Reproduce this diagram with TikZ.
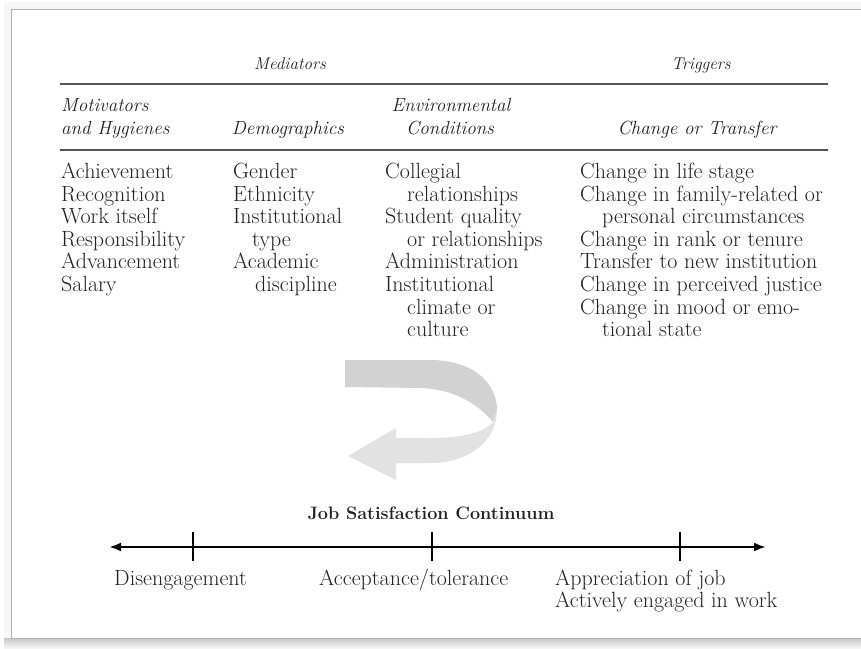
\documentclass[tikz,border=0pt]{standalone}
\usetikzlibrary{arrows.meta}
\definecolor{ink}{HTML}{222222}
\definecolor{rulegray}{HTML}{555555}
\definecolor{bandtop}{HTML}{D2D2D2}
\definecolor{bandlow}{HTML}{E2E2E2}
\begin{document}
\begin{tikzpicture}[x=1pt,y=-1pt,
  body/.style={font=\fontsize{22}{22.6}\selectfont, text=ink, inner sep=0pt,
    anchor=west, text height=15pt, text depth=4pt},
  colhead/.style={body, font=\fontsize{19}{22}\selectfont\itshape},
  grouphead/.style={body, anchor=center, font=\fontsize{17}{20}\selectfont\itshape},
  tablerule/.style={draw=rulegray, line width=2.2pt},
  axisline/.style={draw=black, line width=2.6pt},
  tickmark/.style={draw=black, line width=2.6pt}]
\useasboundingbox (0,0) rectangle (861,648);
\clip (0,0) rectangle (861,648);
\fill[white] (0,0) rectangle (861,648);

% page frame with a soft drop shadow
\foreach \k in {1,...,7}
  \draw[black, opacity=0.03, line width=1pt] (11-\k,9-\k) rectangle (900,638+\k);
\shade[top color=black!22, bottom color=black!4] (4,638) rectangle (861,648);
\draw[black!30, line width=0.8pt] (11,9) rectangle (900,638);

% group headings and rules
\node[grouphead] (mediators) at (290,64) {Mediators};
\node[grouphead] (triggers) at (701,64) {Triggers};
\coordinate (ruleAL) at (60,84);  \coordinate (ruleAR) at (828,84);
\coordinate (ruleBL) at (60,150); \coordinate (ruleBR) at (828,150);
\path[tablerule] (ruleAL) -- (ruleAR);
\path[tablerule] (ruleBL) -- (ruleBR);

% column headings
\node[colhead] (h1a) at (61,106) {Motivators};
\node[colhead] (h1b) at (61,129) {and Hygienes};
\node[colhead, anchor=center] (h2) at (288,129) {Demographics};
\node[colhead, anchor=center] (h3a) at (451,106) {Environmental};
\node[colhead, anchor=center] (h3b) at (450,129) {Conditions};
\node[colhead, anchor=center] (h4) at (697,129) {Change or Transfer};

% column entries (indent in pt / text), one node per printed line
\foreach[count=\i] \d/\t in {0/Achievement, 0/Recognition, 0/Work itself,
    0/Responsibility, 0/Advancement, 0/Salary}
  \node[body] (colA-\i) at (61+\d, 173+22.6*\i-22.6) {\t};
\foreach[count=\i] \d/\t in {0/Gender, 0/Ethnicity, 0/Institutional,
    19/type, 0/Academic, 22/discipline}
  \node[body] (colB-\i) at (233+\d, 173+22.6*\i-22.6) {\t};
\foreach[count=\i] \d/\t in {0/Collegial, 22/relationships, 0/Student quality,
    22/or relationships, 0/Administration, 0/Institutional, 22/climate or,
    22/culture}
  \node[body] (colC-\i) at (385+\d, 173+22.6*\i-22.6) {\t};
\foreach[count=\i] \d/\t in {0/Change in life stage, 0/Change in family-related or,
    22/personal circumstances, 0/Change in rank or tenure,
    0/Transfer to new institution, 0/Change in perceived justice,
    0/Change in mood or emo-, 22/tional state}
  \node[body] (colD-\i) at (580+\d, 173+22.6*\i-22.6) {\t};

% curved ribbon arrow turning back to the left
\fill[bandtop] (345,360) -- (430,360)
  .. controls (472,360) and (497,382) .. (497,410)
  -- (493,422)
  .. controls (476,402) and (452,389) .. (420,388)
  -- (345,387) -- cycle;
\fill[bandlow] (497,410)
  .. controls (497,440) and (470,463) .. (430,463)
  -- (396,463) -- (396,480) -- (348,456) -- (396,428) -- (396,438)
  -- (430,438)
  .. controls (460,438) and (484,433) .. (493,422) -- cycle;

% job satisfaction continuum
\node[body, anchor=center, font=\fontsize{18}{20}\selectfont\bfseries] (cont) at (431,514)
  {Job Satisfaction Continuum};
\coordinate (axL) at (109,547);
\coordinate (axR) at (766,547);
\path[axisline, {Latex[length=12pt,width=9pt]}-{Latex[length=12pt,width=9pt]}] (axL) -- (axR);
\foreach \n/\x in {tkA/193, tkB/432, tkC/680} {
  \coordinate (\n-top) at (\x,532);
  \coordinate (\n-bot) at (\x,561);
  \path[tickmark] (\n-top) -- (\n-bot);
}
\node[body] (disengage) at (114,580) {Disengagement};
\node[body] (accept) at (319,580) {Acceptance/tolerance};
\node[body] (apprec) at (555,580) {Appreciation of job};
\node[body] (active) at (555,602) {Actively engaged in work};
\end{tikzpicture}
\end{document}
